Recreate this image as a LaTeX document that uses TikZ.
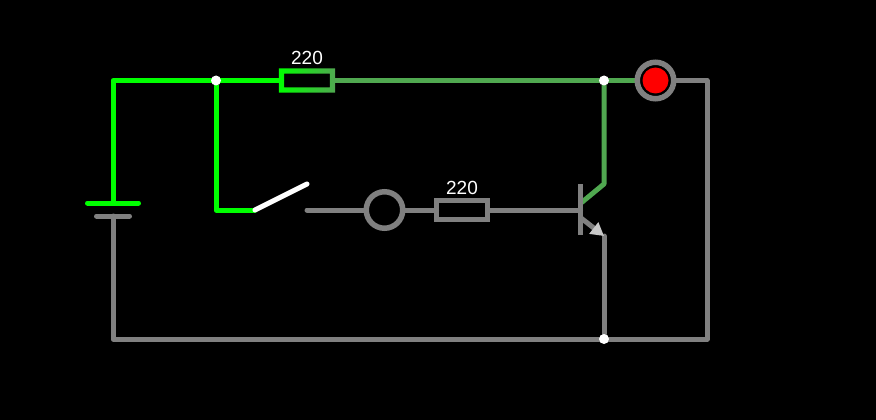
\documentclass[tikz,border=0pt]{standalone}
\usepackage{fontspec}
\setmainfont{Liberation Sans}
\usetikzlibrary{arrows.meta,positioning,backgrounds}
\definecolor{liveGreen}{HTML}{00FF00}
\definecolor{dimGreen}{HTML}{50A850}
\definecolor{deadGrey}{HTML}{808080}
\definecolor{tipGrey}{HTML}{C8C8C8}
\tikzset{
	wire/.style={line width=5pt,line cap=round,line join=round},
	resistor/.style={line width=5.2pt,minimum width=51pt,minimum height=19pt,inner sep=0pt,outer sep=0pt},
	ring/.style={circle,draw=deadGrey,line width=5.5pt,minimum size=36.5pt,inner sep=0pt,outer sep=0pt},
	junction/.style={circle,fill=white,minimum size=10pt,inner sep=0pt,outer sep=0pt},
	value/.style={text=white,font=\fontsize{19}{20}\selectfont,inner sep=0pt}
}
\begin{document}
\begin{tikzpicture}[x=1pt,y=-1pt]
	\foreach \name/\x/\y in {TL/113/80.5,BL/113/339,PlateA/113/203,PlateB/113/216,SwDown/216/210,SwA/255/210,SwB/307/184,SwC/307/210,Base/580.5/210,CollIn/581/203,CollOut/604/184,EmitIn/581/218,EmitOut/604/236,TR/707/80.5,BR/707/339,PlateAl/87.5/203,PlateAr/138.5/203,PlateBl/96.5/216,PlateBr/129.5/216,BarT/580.5/184,BarB/580.5/235}
		\coordinate (\name) at (\x,\y);

	\node[resistor] (R1) at (307,80.5) {};
	\node[resistor,draw=deadGrey] (R2) at (462,210) {};
	\node[ring] (Lamp) at (384.5,210) {};
	\node[ring] (Led) at (655.5,80.5) {};
	\node[circle,fill=red,minimum size=26pt,inner sep=0pt,outer sep=0pt] (LedCore) at (Led) {};
	\node[junction] (J1) at (216,80.5) {};
	\node[junction] (J2) at (604,80.5) {};
	\node[junction] (J3) at (604,339) {};
	\node[value,above=15.5pt of R1.center,anchor=base] (R1v) {220};
	\node[value,above=16pt of R2.center,anchor=base] (R2v) {220};

	\shade[even odd rule,left color=liveGreen,right color=dimGreen]
		([xshift=-2.6pt,yshift=-2.6pt]R1.south west) rectangle ([xshift=2.6pt,yshift=2.6pt]R1.north east)
		([xshift=2.6pt,yshift=2.6pt]R1.south west) rectangle ([xshift=-2.6pt,yshift=-2.6pt]R1.north east);

	\begin{pgfonlayer}{background}
		\fill[black] (0,0) rectangle (876,420);
		\draw[wire,liveGreen] (R1.west) -- (TL) -- (PlateA);
		\draw[wire,liveGreen] (J1) -- (SwDown) -- (SwA);
		\draw[wire,liveGreen] (PlateAl) -- (PlateAr);
		\draw[wire,dimGreen] (R1.east) -- (Led.west);
		\draw[wire,dimGreen] (J2) -- (CollOut) -- (CollIn);
		\draw[wire,white] (SwA) -- (SwB);
		\draw[wire,deadGrey] (PlateBl) -- (PlateBr);
		\draw[wire,deadGrey] (PlateB) -- (BL) -- (BR) -- (TR) -- (Led.east);
		\draw[wire,deadGrey] (SwC) -- (Lamp.west);
		\draw[wire,deadGrey] (Lamp.east) -- (R2.west);
		\draw[wire,deadGrey] (R2.east) -- (Base);
		\draw[wire,deadGrey,line cap=butt] (BarT) -- (BarB);
		\draw[wire,deadGrey] (J3) -- (EmitOut);
		\draw[wire,deadGrey,-{Triangle[width=14pt,length=13pt,color=tipGrey]}] (EmitIn) -- (EmitOut);
	\end{pgfonlayer}
\end{tikzpicture}
\end{document}
